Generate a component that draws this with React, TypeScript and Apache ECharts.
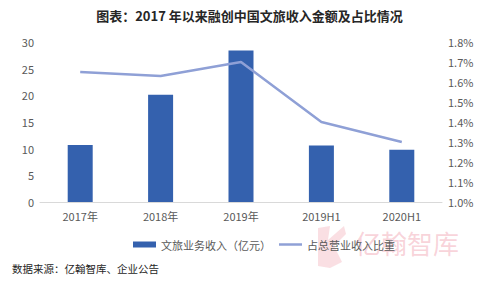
import React, { useEffect, useRef } from "react";
import * as echarts from "echarts";

const categories = ["2017年", "2018年", "2019年", "2019H1", "2020H1"];
const revenue = [10.7, 20.1, 28.4, 10.6, 9.8];
const share = [1.65, 1.63, 1.7, 1.4, 1.3];
const seriesNames = ["文旅业务收入（亿元）", "占总营业收入比重"];

const FONT = "'Noto Sans CJK SC', 'Noto Sans', sans-serif";

export default function App() {
  const ref = useRef<HTMLDivElement>(null);
  useEffect(() => {
    const chart = echarts.init(ref.current!, null, { renderer: "svg" });
    chart.setOption({
      animation: false,
      backgroundColor: "#ffffff",
      textStyle: { fontFamily: FONT },
      title: {
        text: "图表：2017 年以来融创中国文旅收入金额及占比情况",
        left: "center",
        top: 4,
        textStyle: { fontSize: 13, fontWeight: "bold", color: "#262626", fontFamily: FONT },
      },
      grid: { left: 40, right: 57, top: 42, bottom: 87 },
      legend: {
        top: 234,
        left: 128,
        itemWidth: 23,
        itemHeight: 6,
        itemGap: 8,
        textStyle: { fontSize: 11, color: "#595959", fontFamily: FONT },
        data: [
          { name: seriesNames[0], icon: "rect" },
          { name: seriesNames[1], icon: "path://M0,0h23v2.5h-23z" },
        ],
      },
      xAxis: {
        type: "category",
        data: categories,
        axisLine: { lineStyle: { color: "#d9d9d9", width: 1 } },
        axisTick: { show: false },
        axisLabel: { color: "#595959", fontSize: 11, margin: 8 },
      },
      yAxis: [
        {
          type: "value",
          min: 0,
          max: 30,
          interval: 5,
          splitLine: { show: false },
          axisLine: { show: false },
          axisTick: { show: false },
          axisLabel: { color: "#595959", fontSize: 11, margin: 6 },
        },
        {
          type: "value",
          min: 1.0,
          max: 1.8,
          interval: 0.1,
          splitLine: { show: false },
          axisLine: { show: false },
          axisTick: { show: false },
          axisLabel: {
            color: "#595959",
            fontSize: 11,
            margin: 6,
            formatter: (v: number) => v.toFixed(1) + "%",
          },
        },
      ],
      series: [
        {
          name: seriesNames[0],
          type: "bar",
          data: revenue,
          barWidth: 25,
          itemStyle: { color: "#3461ae" },
        },
        {
          name: seriesNames[1],
          type: "line",
          yAxisIndex: 1,
          data: share,
          symbol: "none",
          lineStyle: { color: "#8fa0d6", width: 2.5 },
          itemStyle: { color: "#8fa0d6" },
        },
      ],
      graphic: [
        {
          type: "polygon",
          shape: {
            points: [
              [318, 228], [330, 226], [328, 240], [344, 226], [346, 234],
              [334, 246], [342, 262], [330, 268], [318, 266],
            ],
          },
          style: { fill: "rgba(236,140,155,0.28)" },
          silent: true,
        },
        {
          type: "text",
          left: 355,
          top: 229,
          style: {
            text: "亿翰智库",
            font: "26px 'Noto Sans CJK SC'",
            fill: "rgba(236,130,150,0.35)",
          },
          silent: true,
        },
        {
          type: "text",
          left: 12,
          top: 263,
          style: {
            text: "数据来源：亿翰智库、企业公告",
            font: "10.5px 'Noto Sans CJK SC'",
            fill: "#262626",
          },
        },
      ],
    });
    return () => chart.dispose();
  }, []);
  return <div ref={ref} style={{ width: 499, height: 289, margin: -8 }} />;
}
